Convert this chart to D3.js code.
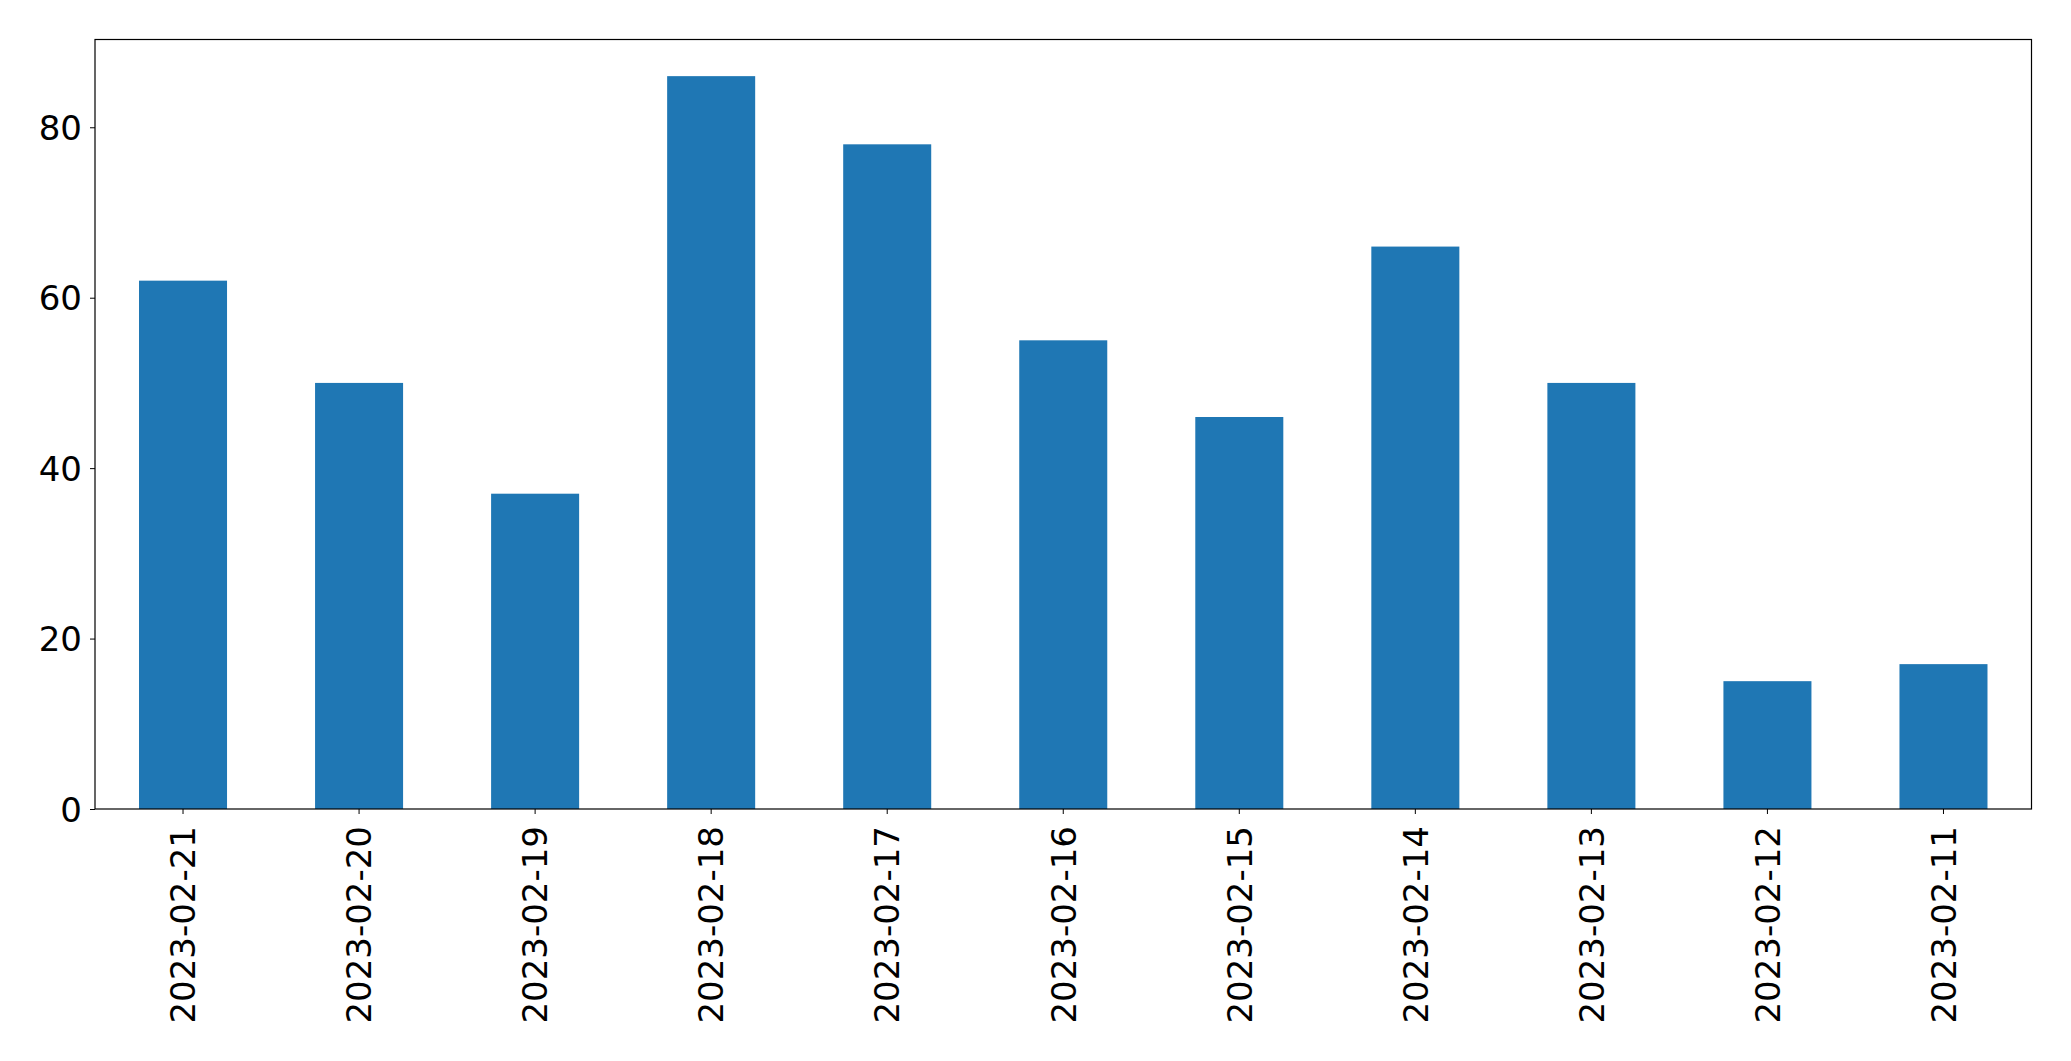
<!DOCTYPE html>
<html>
<head>
<meta charset="utf-8">
<script src="https://cdn.jsdelivr.net/npm/d3@7"></script>
<style>
  html, body { margin: 0; padding: 0; background: #fff; }
  svg { display: block; }
  text { font-family: "DejaVu Sans", sans-serif; fill: #000; }
</style>
</head>
<body>
<div id="chart"></div>
<script>
// data
const dates = ["2023-02-21", "2023-02-20", "2023-02-19", "2023-02-18", "2023-02-17",
    "2023-02-16", "2023-02-15", "2023-02-14", "2023-02-13", "2023-02-12", "2023-02-11"];
const counts = [62, 50, 37, 86, 78, 55, 46, 66, 50, 15, 17];
const yTicks = [0, 20, 40, 60, 80];

const W = 2071, H = 1061;
const margin = {left: 95, top: 39.5, right: 2031.5, bottom: 809};
const fontPx = "34px";

let svg = d3.select("#chart").append("svg")
    .attr("width", W).attr("height", H);

// band of width 1 per category, bars take half of it (like pandas bar plot)
let x = d3.scaleBand()
    .domain(dates)
    .range([margin.left, margin.right])
    .paddingInner(0.5)
    .paddingOuter(0.25);

let yMax = d3.max(counts) * 1.05;
let y = d3.scaleLinear()
    .domain([0, yMax])
    .range([margin.bottom, margin.top]);

svg.append("g")
    .selectAll("rect")
    .data(counts)
    .join("rect")
    .attr("x", (d, i) => x(dates[i]))
    .attr("width", x.bandwidth())
    .attr("y", d => y(d))
    .attr("height", d => y(0) - y(d))
    .attr("fill", "#1f77b4");

// y axis
let yAxis = svg.append("g")
    .attr("transform", "translate(" + margin.left + ",0)")
    .call(d3.axisLeft(y).tickValues(yTicks).tickSize(5).tickPadding(8).tickFormat(d3.format("d")));
yAxis.select(".domain").remove();
yAxis.selectAll("line").attr("stroke", "#000").attr("stroke-width", 1);
yAxis.selectAll("text")
    .style("font-family", "DejaVu Sans")
    .style("font-size", fontPx)
    .attr("dy", "0.36em");

// x axis with rotated labels
let xAxis = svg.append("g")
    .attr("transform", "translate(0," + margin.bottom + ")")
    .call(d3.axisBottom(x).tickSize(5).tickPadding(0));
xAxis.select(".domain").remove();
xAxis.selectAll("line").attr("stroke", "#000").attr("stroke-width", 1);
xAxis.selectAll("text")
    .style("font-family", "DejaVu Sans")
    .style("font-size", fontPx)
    .attr("text-anchor", "end")
    .attr("transform", "translate(0,17) rotate(-90)")
    .attr("x", 0)
    .attr("y", 0)
    .attr("dy", "0.36em");

// frame
svg.append("rect")
    .attr("x", margin.left)
    .attr("y", margin.top)
    .attr("width", margin.right - margin.left)
    .attr("height", margin.bottom - margin.top)
    .attr("fill", "none")
    .attr("stroke", "#000")
    .attr("stroke-width", 1.2);
</script>
</body>
</html>
